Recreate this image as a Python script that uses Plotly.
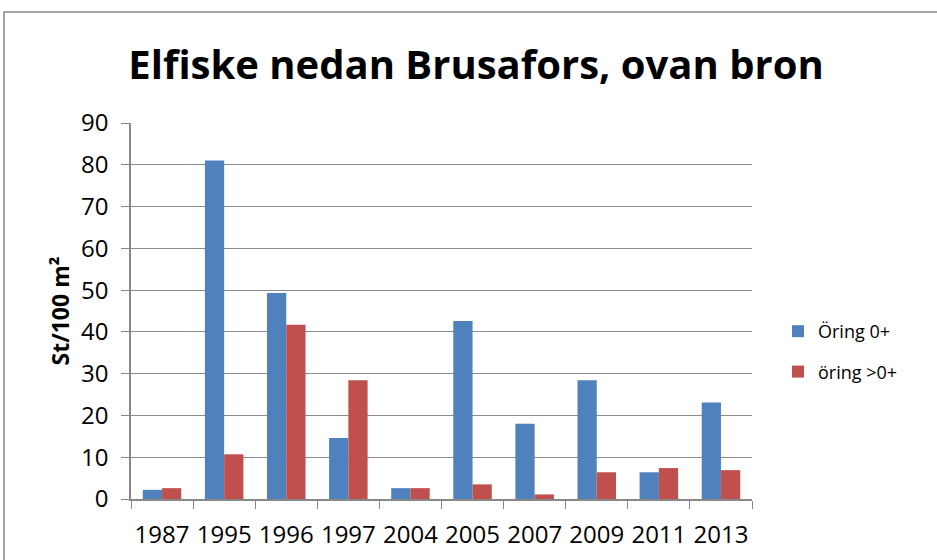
import plotly.graph_objects as go

years = ["1987", "1995", "1996", "1997", "2004", "2005", "2007", "2009", "2011", "2013"]
oring0 = [2.2, 81.0, 49.3, 14.6, 2.6, 42.6, 18.0, 28.4, 6.4, 23.1]
oring_gt0 = [2.6, 10.7, 41.7, 28.4, 2.6, 3.5, 1.1, 6.4, 7.4, 6.9]
y_ticks = [0, 10, 20, 30, 40, 50, 60, 70, 80, 90]

FONT = "Open Sans, Arial, sans-serif"

fig = go.Figure()
fig.add_trace(go.Bar(x=years, y=oring0, name="Öring 0+", legendgroup="a",
                     marker=dict(color="#4F81BD", line=dict(width=0))))
fig.add_trace(go.Bar(x=years, y=oring_gt0, name="öring >0+", legendgroup="b",
                     marker=dict(color="#C0504D", line=dict(width=0))))

W, H = 937, 560
L, T = 131, 123
R, B = W - 752, H - 499
pw, ph = W - L - R, H - T - B

fig.update_layout(
    width=W, height=H,
    margin=dict(l=L, r=R, t=T, b=B, autoexpand=False),
    paper_bgcolor="white", plot_bgcolor="white",
    barmode="group", bargap=0.38, bargroupgap=0,
    font=dict(family=FONT, color="black", size=18),
    title=dict(text="<b>Elfiske nedan Brusafors, ovan bron</b>", x=(476 - L) / pw, xref="paper",
               y=1 - 65 / H, yref="container", xanchor="center", yanchor="middle",
               font=dict(size=40, family=FONT)),
    legend=dict(x=(778 - L) / pw, y=(499 - 313) / ph, xanchor="left", yanchor="top",
                font=dict(size=18, family=FONT), itemwidth=30, tracegroupgap=14,
                bgcolor="rgba(0,0,0,0)"),
    xaxis=dict(type="category", showline=True, linecolor="#888888", linewidth=1.5,
               ticks="outside", tickson="boundaries", ticklen=8, tickcolor="#888888",
               ticklabelstandoff=13, tickangle=0,
               tickfont=dict(size=24, family=FONT), showgrid=False),
    yaxis=dict(range=[0, 90], tickvals=y_ticks, showline=True, linecolor="#888888", linewidth=1.5,
               ticks="outside", ticklen=8, tickcolor="#888888", showgrid=True, gridcolor="#8c8c8c",
               gridwidth=1, tickfont=dict(size=24, family=FONT), zeroline=False,
               ticklabelstandoff=8,
               title=dict(text="<b>St/100 m²</b>", font=dict(size=23, family=FONT), standoff=5)),
    shapes=[dict(type="rect", xref="paper", yref="paper",
                 x0=(4 - L) / pw, x1=(W + 10 - L) / pw,
                 y0=-(H + 10 - T - ph) / ph, y1=(H - B - 12) / ph,
                 line=dict(color="#888888", width=1.5), fillcolor="rgba(0,0,0,0)", layer="below")],
)

fig.write_html("out.html", config={"displayModeBar": False},
               post_script="document.body.style.margin='0px';")
